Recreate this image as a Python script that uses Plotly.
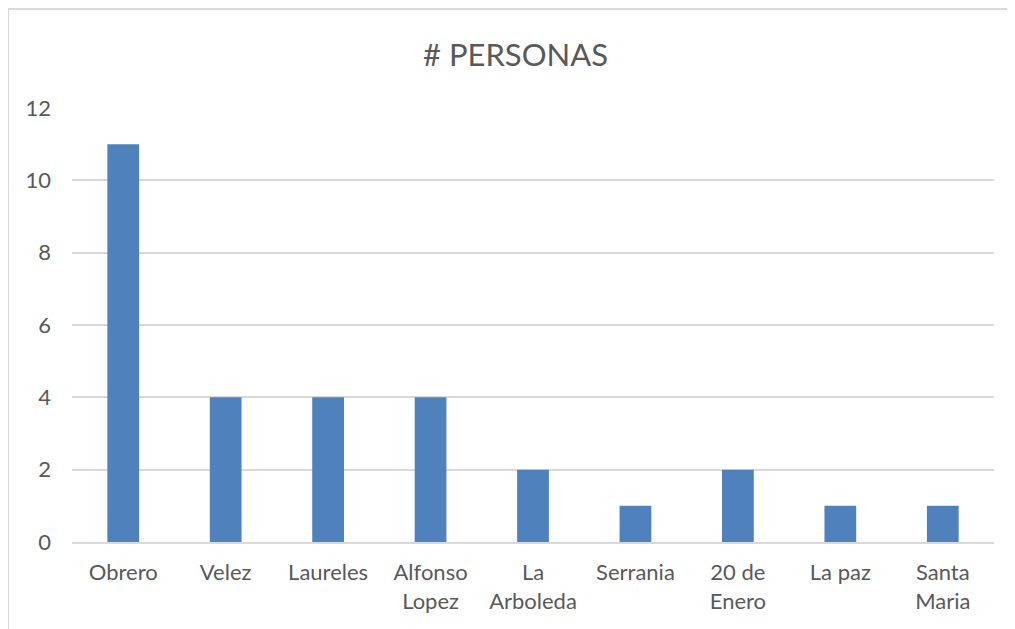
import plotly.graph_objects as go

barrios = ["Obrero", "Velez", "Laureles", "Alfonso<br>Lopez", "La<br>Arboleda",
           "Serrania", "20 de<br>Enero", "La paz", "Santa<br>Maria"]
personas = [11, 4, 4, 4, 2, 1, 2, 1, 1]
y_ticks = [0, 2, 4, 6, 8, 10, 12]

gris_texto = "#595959"
gris_linea = "#D9D9D9"

fig = go.Figure()
fig.add_trace(go.Bar(x=barrios, y=personas, marker_color="#4F81BD",
                     marker_line_width=0, hoverinfo="x+y"))

# la pagina tiene 8px de margen en el body, se compensa aqui
fig.update_layout(
    width=1015, height=629,
    margin=dict(l=64, r=29, t=100, b=95, autoexpand=False),
    paper_bgcolor="white", plot_bgcolor="white",
    font=dict(family="Lato, Noto Sans, sans-serif", color=gris_texto, size=22),
    title=dict(text="# PERSONAS", x=0.5, xanchor="center", y=1 - 47 / 629,
               yanchor="middle", font=dict(size=31, color=gris_texto)),
    bargap=0.69,
    showlegend=False,
)
fig.update_xaxes(showline=True, linecolor=gris_linea, linewidth=2,
                 showgrid=False, ticks="", ticklabelstandoff=10)
fig.update_yaxes(range=[0, 12], tickvals=y_ticks, showgrid=True,
                 gridcolor=gris_linea, gridwidth=2, zeroline=False,
                 showline=False, ticks="", ticklabelstandoff=20)

# marco del grafico (recortado a la derecha y abajo)
fig.add_shape(type="path", xref="paper", yref="paper",
              path="M -0.0694 -0.3 L -0.0694 1.228 L 1.1 1.228",
              line=dict(color=gris_linea, width=2))

fig.write_html("out.html")
